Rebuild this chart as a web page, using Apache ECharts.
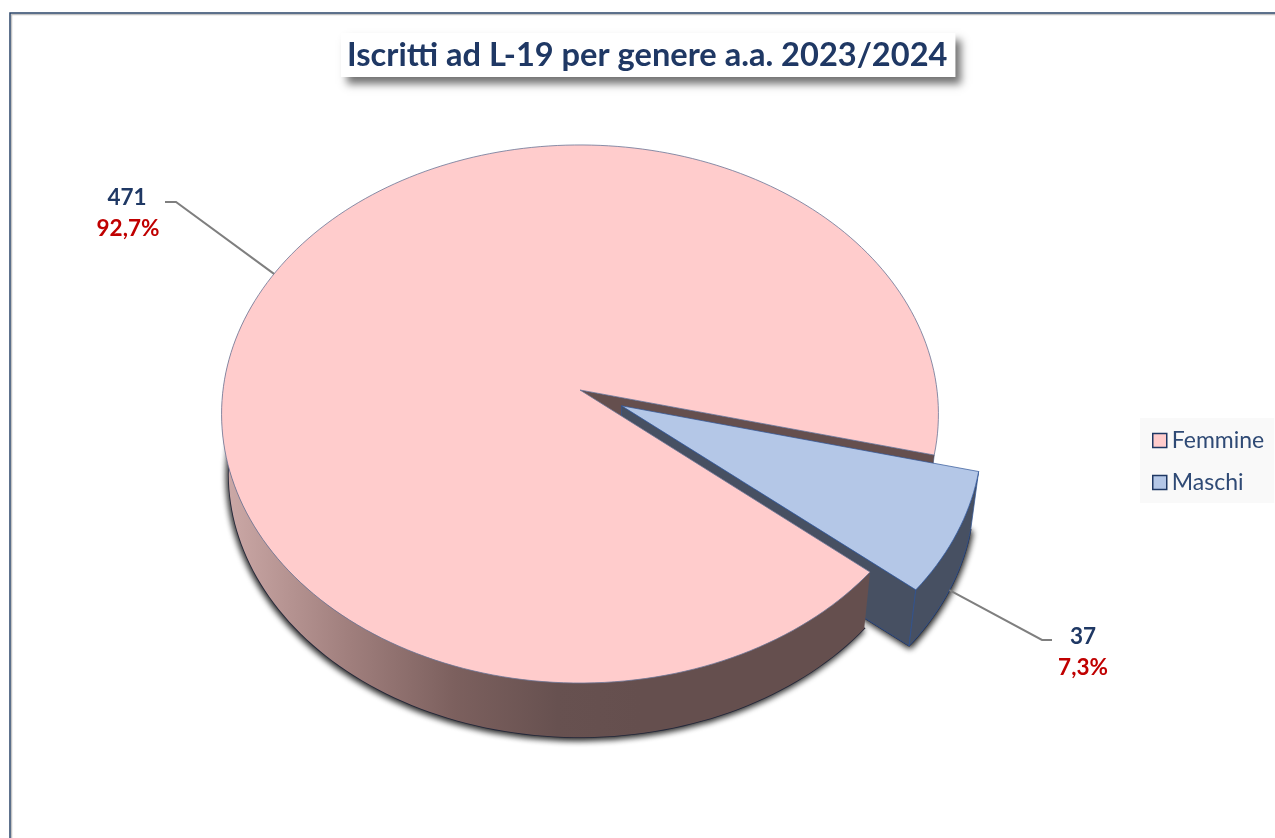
<!DOCTYPE html>
<html>
<head>
<meta charset="utf-8">
<title>Iscritti ad L-19</title>
<script src="https://cdn.jsdelivr.net/npm/echarts@6/dist/echarts.min.js"></script>
<style>
html, body { margin: 0; background: #fff; }
#chart { width: 1275px; height: 838px; }
</style>
</head>
<body>
<div id="chart"></div>
<script>
const categories = ["Femmine", "Maschi"];
const values = [471, 37];

const NAVY = "#1f3864";
const RED = "#c00000";
const FONT = "Lato, 'Noto Sans', sans-serif";

// tilted pie, drawn by hand because the echarts pie is always round
const PIE = { cx: 580, cy: 390, a: 357, b: 266.9, k: 0.0892, explode: 0.13, firstAngle: 13.8 };
const WALL = { scale: 0.98, drop: 60 };

const total = values.reduce((s, v) => s + v, 0);
const sweep = values.map((v) => (v / total) * 360);
const maschiFrom = PIE.firstAngle;
const maschiTo = maschiFrom + sweep[1];
const femmineFrom = maschiTo;
const femmineTo = femmineFrom + sweep[0];

function project(u, v, bottom) {
  const w = 1 - PIE.k * v;
  const s = bottom ? WALL.scale : 1;
  const d = bottom ? WALL.drop : 0;
  return [PIE.cx + (PIE.a * u * s) / w, PIE.cy + (PIE.b * v * s) / w + d];
}

function rimPoint(deg, off, bottom) {
  const t = (deg * Math.PI) / 180;
  return project(off[0] + Math.cos(t), off[1] + Math.sin(t), bottom);
}

function arc(from, to, off, bottom) {
  const n = Math.max(2, Math.ceil(Math.abs(to - from) / 1.5));
  const pts = [];
  for (let i = 0; i <= n; i++) {
    pts.push(rimPoint(from + ((to - from) * i) / n, off, bottom));
  }
  return pts;
}

function poly(points, style, z2) {
  return { type: "polygon", z2: z2, silent: true, shape: { points: points }, style: style };
}

function leader(points, z2) {
  return {
    type: "polyline",
    z2: z2,
    silent: true,
    shape: { points: points },
    style: { fill: null, stroke: "#7f7f7f", lineWidth: 2 },
  };
}

function label(text, x, y, color, z2) {
  return {
    type: "text",
    z2: z2,
    silent: true,
    style: {
      text: text,
      x: x,
      y: y,
      fill: color,
      font: "bold 22.5px " + FONT,
      align: "center",
      verticalAlign: "middle",
    },
  };
}

function percent(v) {
  return ((v / total) * 100).toFixed(1).replace(".", ",") + "%";
}

function renderFemmine() {
  const o = [0, 0];
  const mid = (femmineFrom + femmineTo) / 2;
  const wallFill = new echarts.graphic.LinearGradient(
    228, 0, 640, 0,
    [
      { offset: 0, color: "#cba8a6" },
      { offset: 0.3, color: "#9f7e7c" },
      { offset: 0.55, color: "#7c605e" },
      { offset: 0.8, color: "#675150" },
      { offset: 1, color: "#654f4e" },
    ],
    true
  );
  const topEdge = { fill: "#ffcccc", stroke: "#6b7596", lineWidth: 0.8 };
  const tip = project(0, 0, false);
  const tipLow = project(0, 0, true);
  const rimA = rimPoint(femmineTo, o, false);
  const rimALow = rimPoint(femmineTo, o, true);
  const hit = rimPoint(mid, o, false);
  return {
    type: "group",
    children: [
      // base with the soft dark shadow round it
      poly(arc(femmineFrom, 200, o, true).concat([tipLow]), {
        fill: "#654f4e",
        stroke: "#23273a",
        lineWidth: 1.6,
        shadowBlur: 6,
        shadowColor: "rgba(0,0,0,1)",
        shadowOffsetX: -1,
        shadowOffsetY: 2,
      }, 1),
      // inside wall seen through the gap
      poly([tip, rimA, rimALow, tipLow], { fill: "#654f4e", stroke: "#3d4a6b", lineWidth: 0.6 }, 2),
      // outside wall
      poly(arc(femmineFrom, 200, o, false).concat(arc(200, femmineFrom, o, true)), {
        fill: wallFill,
      }, 6),
      poly([tip].concat(arc(femmineFrom, femmineTo, o, false)), topEdge, 7),
      leader([hit, [176, 202], [165, 202]], 8),
      label(String(values[0]), 127, 198, NAVY, 9),
      label(percent(values[0]), 128, 229, RED, 9),
    ],
  };
}

function renderMaschi() {
  const mid = (maschiFrom + maschiTo) / 2;
  const t = (mid * Math.PI) / 180;
  const o = [PIE.explode * Math.cos(t), PIE.explode * Math.sin(t)];
  const edge = { stroke: "#2f5597", lineWidth: 0.7 };
  const tip = project(o[0], o[1], false);
  const tipLow = project(o[0], o[1], true);
  const corner = rimPoint(maschiTo, o, false);
  const cornerLow = rimPoint(maschiTo, o, true);
  const hit = rimPoint(mid, o, true);
  return {
    type: "group",
    children: [
      poly([tipLow].concat(arc(maschiFrom, maschiTo, o, true)), {
        fill: "#475062",
        stroke: "#23273a",
        lineWidth: 1.4,
        shadowBlur: 6,
        shadowColor: "rgba(0,0,0,1)",
        shadowOffsetX: 1,
        shadowOffsetY: 2,
      }, 3),
      poly([tip, corner, cornerLow, tipLow], Object.assign({ fill: "#475062" }, edge), 4),
      poly(arc(maschiFrom, maschiTo, o, false).concat(arc(maschiTo, maschiFrom, o, true)),
        Object.assign({ fill: "#475062" }, edge), 4),
      poly([tip].concat(arc(maschiFrom, maschiTo, o, false)),
        Object.assign({ fill: "#b4c7e7" }, edge), 5),
      leader([hit, [1042, 640], [1052, 640]], 8),
      label(String(values[1]), 1083, 637, NAVY, 9),
      label(percent(values[1]), 1083, 668, RED, 9),
    ],
  };
}

const chart = echarts.init(document.getElementById("chart"));
chart.setOption({
  animation: false,
  backgroundColor: "#fff",
  title: {
    text: "Iscritti ad L-19 per genere a.a. 2023/2024",
    left: 341,
    top: 33,
    padding: [6, 8, 5, 6],
    backgroundColor: "#fff",
    shadowColor: "rgba(0,0,0,0.55)",
    shadowBlur: 8,
    shadowOffsetX: 6,
    shadowOffsetY: 7,
    textStyle: { color: NAVY, fontFamily: FONT, fontWeight: "bold", fontSize: 32.6 },
  },
  legend: {
    data: categories,
    orient: "vertical",
    left: 1140,
    top: 418,
    padding: [11, 10, 9, 12],
    itemGap: 19,
    itemWidth: 14,
    itemHeight: 14,
    icon: "rect",
    backgroundColor: "#f9f9f9",
    selectedMode: false,
    itemStyle: { borderColor: NAVY, borderWidth: 1.5 },
    textStyle: { color: "#2f4a75", fontFamily: FONT, fontSize: 23 },
  },
  graphic: [
    {
      type: "polyline",
      silent: true,
      shape: { points: [[11.5, 838], [11.5, 14.5], [1275, 14.5]] },
      style: { fill: null, stroke: "#c4c4c4", lineWidth: 1.5 },
    },
    {
      type: "polyline",
      silent: true,
      shape: { points: [[10, 838], [10, 13], [1275, 13]] },
      style: { fill: null, stroke: "#2a4468", lineWidth: 1.5 },
    },
  ],
  series: [
    {
      type: "custom",
      name: categories[0],
      coordinateSystem: "none",
      data: [values[0]],
      itemStyle: { color: "#ffcccc" },
      renderItem: renderFemmine,
    },
    {
      type: "custom",
      name: categories[1],
      coordinateSystem: "none",
      data: [values[1]],
      itemStyle: { color: "#b4c7e7" },
      renderItem: renderMaschi,
    },
  ],
});
</script>
</body>
</html>
